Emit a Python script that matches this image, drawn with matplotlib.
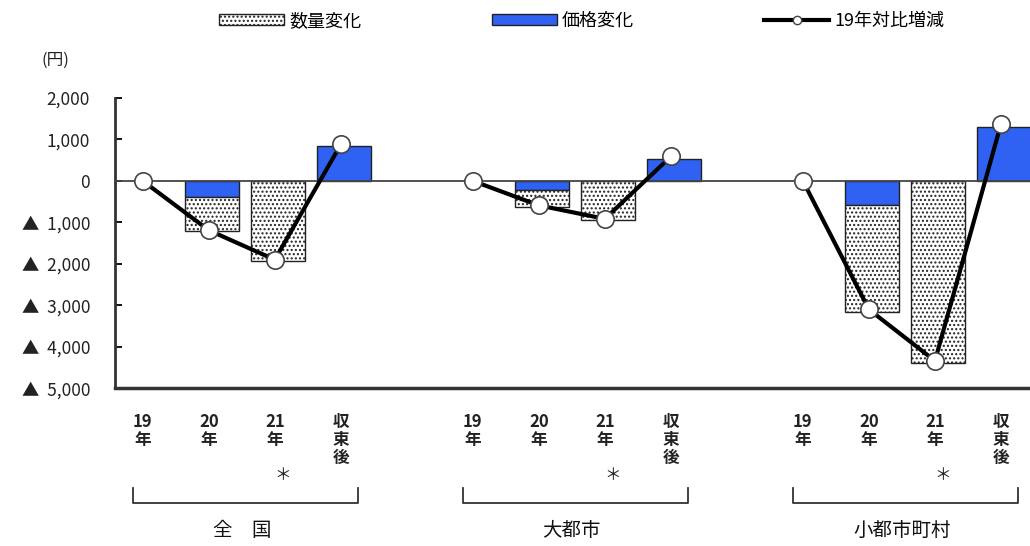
import matplotlib
matplotlib.use("Agg")
from matplotlib import pyplot as plt
from matplotlib.patches import Patch
from matplotlib.lines import Line2D

plt.rcParams['font.family'] = ['Noto Sans CJK JP', 'DejaVu Sans']
plt.rcParams['hatch.color'] = '#333333'
plt.rcParams['hatch.linewidth'] = 1.0

groups = ['全　国', '大都市', '小都市町村']
periods = ['19\n年', '20\n年', '21\n年', '収\n束\n後']

# price change (blue), quantity change (dotted), total vs 2019 (line)
price = [[0, -390, 0, 850],
         [0, -220, 0, 525],
         [0, -575, 0, 1305]]
qty = [[0, -820, -1940, 0],
       [0, -420, -950, 0],
       [0, -2580, -4380, 0]]
total = [[0, -1190, -1900, 880],
         [0, -590, -915, 590],
         [0, -3100, -4340, 1370]]

yticks = [2000, 1000, 0, -1000, -2000, -3000, -4000, -5000]
yticklabels = ['2,000', '1,000', '0', '▲  1,000', '▲  2,000', '▲  3,000', '▲  4,000', '▲  5,000']

blue = '#2f62f2'
bar_w = 0.82

fig = plt.figure(figsize=(10.3, 5.46), dpi=100)
ax = fig.add_axes([0.1117, 0.289, 0.8883, 0.5315])

for g in range(3):
    xs = [g * 5 + i for i in range(4)]
    for i, x in enumerate(xs):
        p = price[g][i]
        q = qty[g][i]
        bx = x + 0.05 if i > 0 else x
        if p != 0:
            ax.bar(bx, p, width=bar_w, color=blue, edgecolor='#222222', linewidth=1.0, zorder=2)
        if q != 0:
            ax.bar(bx, q, bottom=p, width=bar_w, color='white', edgecolor='#222222',
                   hatch='....', linewidth=1.0, zorder=2)
    ax.plot(xs, total[g], color='black', linewidth=3, marker='o', markersize=12.5,
            markerfacecolor='white', markeredgecolor='#444444', markeredgewidth=1.2, zorder=4)

    # x labels
    for i, x in enumerate(xs):
        ax.text(x, -0.085, periods[i], transform=ax.get_xaxis_transform(), ha='center', va='top',
                fontsize=12, fontweight='bold', color='#222222', linespacing=1.0)
    ax.text(xs[2] + 0.12, -0.3, '＊', transform=ax.get_xaxis_transform(), ha='center', va='center',
            fontsize=12, color='#222222')
    # bracket
    x0, x1 = xs[0] - 0.15, xs[3] + 0.26
    ax.plot([x0, x0, x1, x1], [-0.345, -0.395, -0.395, -0.345], transform=ax.get_xaxis_transform(),
            color='#333333', linewidth=1.3, clip_on=False)
    ax.text((xs[0] + xs[3]) / 2, -0.455, groups[g], transform=ax.get_xaxis_transform(),
            ha='center', va='top', fontsize=14, color='#111111')

ax.axhline(0, color='#444444', linewidth=1.3, zorder=3)

ax.set_xlim(-0.42, 13.44)
ax.set_ylim(-5000, 2000)
ax.set_yticks(yticks)
ax.set_yticklabels(yticklabels, fontsize=12.5, color='#222222')
ax.set_xticks([])
ax.tick_params(axis='y', direction='in', length=5, width=1.3, pad=18)
ax.spines['top'].set_visible(False)
ax.spines['right'].set_visible(False)
ax.spines['left'].set_linewidth(2)
ax.spines['left'].set_color('#333333')
ax.spines['bottom'].set_linewidth(2.5)
ax.spines['bottom'].set_color('#333333')

fig.text(0.04, 0.89, '(円)', fontsize=12, color='#222222', va='center')

handles = [Patch(facecolor='white', edgecolor='#222222', hatch='....'),
           Patch(facecolor=blue, edgecolor='#222222'),
           Line2D([0], [0], color='black', linewidth=3, marker='o', markersize=6,
                  markerfacecolor='white', markeredgecolor='#444444')]
fig.legend(handles, ['数量変化', '価格変化', '19年対比増減'], loc='center', ncol=3,
           bbox_to_anchor=(0.565, 0.962), frameon=False, fontsize=13, handlelength=3.6,
           handleheight=0.6, handletextpad=0.3, columnspacing=7.2)

fig.savefig('out.png', dpi=100)
